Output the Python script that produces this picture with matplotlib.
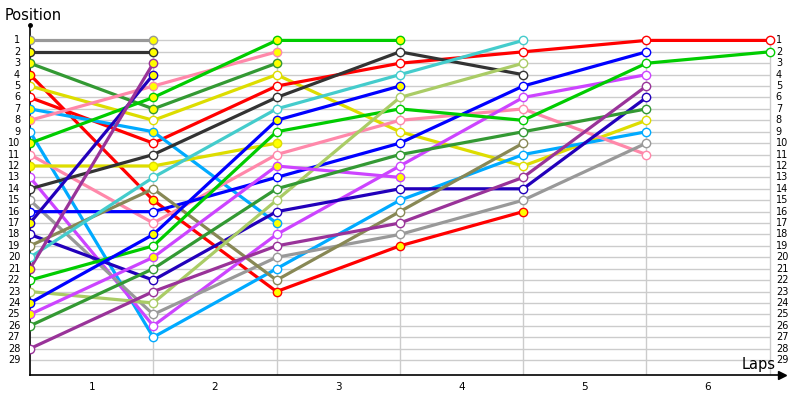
import matplotlib.pyplot as plt

# running position of every car, lap 0 (grid) until it drops out
grey_1 = [1, 1]
black_1 = [2, 2]
dkgreen_1 = [3, 7, 3]
red_1 = [4, 15, 23, 19, 16]
yellow_2 = [5, 8, 4, 9, 12, 8]
red_2 = [6, 10, 5, 3, 2, 1, 1]
sky_1 = [7, 9, 17]
pink_1 = [8, 5, 2]
sky_2 = [9, 27, 21, 15, 11, 9]
green_1 = [10, 6, 1, 1]
pink_2 = [11, 17, 11, 8, 7, 11]
yellow_1 = [12, 12, 10]
violet_2 = [13, 26, 18, 12, 6, 4]
black_2 = [14, 11, 6, 2, 4]
grey_2 = [15, 25, 20, 18, 15, 10]
blue_2 = [16, 16, 13, 10, 5, 2]
navy_1 = [17, 4]
navy_2 = [18, 22, 16, 14, 14, 6]
olive_2 = [19, 14, 22, 16, 10]
cyan_2 = [20, 13, 7, 4, 1]
purple_1 = [21, 3]
green_2 = [22, 19, 9, 7, 8, 3, 2]
lime_2 = [23, 24, 15, 6, 3]
blue_1 = [24, 18, 8, 5]
violet_1 = [25, 20, 12, 13]
dkgreen_2 = [26, 21, 14, 11, 9, 7]
purple_2 = [28, 23, 19, 17, 13, 5]

team_colors = {'grey': '#999999', 'black': '#333333', 'dkgreen': '#339933', 'red': '#ff0000',
               'yellow': '#dddd00', 'sky': '#00aaff', 'pink': '#ff88aa', 'green': '#00cc00',
               'violet': '#cc44ff', 'blue': '#0000ff', 'navy': '#2200bb', 'olive': '#888855',
               'cyan': '#44cccc', 'purple': '#993399', 'lime': '#aacc66'}

cars = [('grey', 1, grey_1), ('black', 1, black_1), ('dkgreen', 1, dkgreen_1), ('red', 1, red_1),
        ('yellow', 2, yellow_2), ('red', 2, red_2), ('sky', 1, sky_1), ('pink', 1, pink_1),
        ('sky', 2, sky_2), ('green', 1, green_1), ('pink', 2, pink_2), ('yellow', 1, yellow_1),
        ('violet', 2, violet_2), ('black', 2, black_2), ('grey', 2, grey_2), ('blue', 2, blue_2),
        ('navy', 1, navy_1), ('navy', 2, navy_2), ('olive', 2, olive_2), ('cyan', 2, cyan_2),
        ('purple', 1, purple_1), ('green', 2, green_2), ('lime', 2, lime_2), ('blue', 1, blue_1),
        ('violet', 1, violet_1), ('dkgreen', 2, dkgreen_2), ('purple', 2, purple_2)]

n_laps = 6
n_pos = 29

fig = plt.figure(figsize=(8, 4), dpi=100)
ax = fig.add_axes([30 / 800, 25 / 400, 752 / 800, 350 / 400])
ax.set_xlim(0, 6.1)
ax.set_ylim(30.31, -0.35)

# grid
ax.hlines(range(1, n_pos + 1), 0, n_laps, color='#cccccc', lw=1, zorder=1)
ax.vlines(range(1, n_laps + 1), 1, 30.31, color='#cccccc', lw=1, zorder=1)

for team, car, pos in cars:
    c = team_colors[team]
    face = '#ffff00' if car == 1 else 'white'
    laps = list(range(len(pos)))
    ax.plot(laps, pos, color=c, lw=2.3, zorder=2, solid_capstyle='round')
    ax.plot(laps, pos, ls='none', marker='o', ms=6, mfc=face, mec=c, mew=1, zorder=3)

for spine in ['top', 'right']:
    ax.spines[spine].set_visible(False)
ax.spines['left'].set_linewidth(1.2)
ax.spines['bottom'].set_linewidth(1.2)
ax.set_xticks([])
ax.set_yticks([])

for p in range(1, n_pos + 1):
    ax.text(-0.08, p, str(p), ha='right', va='center', fontsize=7)
    ax.text(n_laps + 0.05, p, str(p), ha='left', va='center', fontsize=7)
for lap in range(1, n_laps + 1):
    ax.text(lap - 0.5, 31.35, str(lap), ha='center', va='center', fontsize=7.5, clip_on=False)

ax.plot([6.1], [30.31], marker='>', color='black', ms=6, clip_on=False)
ax.plot([0], [-0.35], marker='o', color='black', ms=2.5, clip_on=False)
fig.text(5 / 800, 1 - 15 / 400, 'Position', fontsize=10.5, ha='left', va='center')
fig.text(759 / 800, 1 - 365 / 400, 'Laps', fontsize=10.5, ha='center', va='center')

plt.savefig('out.png', dpi=100)
plt.close()
